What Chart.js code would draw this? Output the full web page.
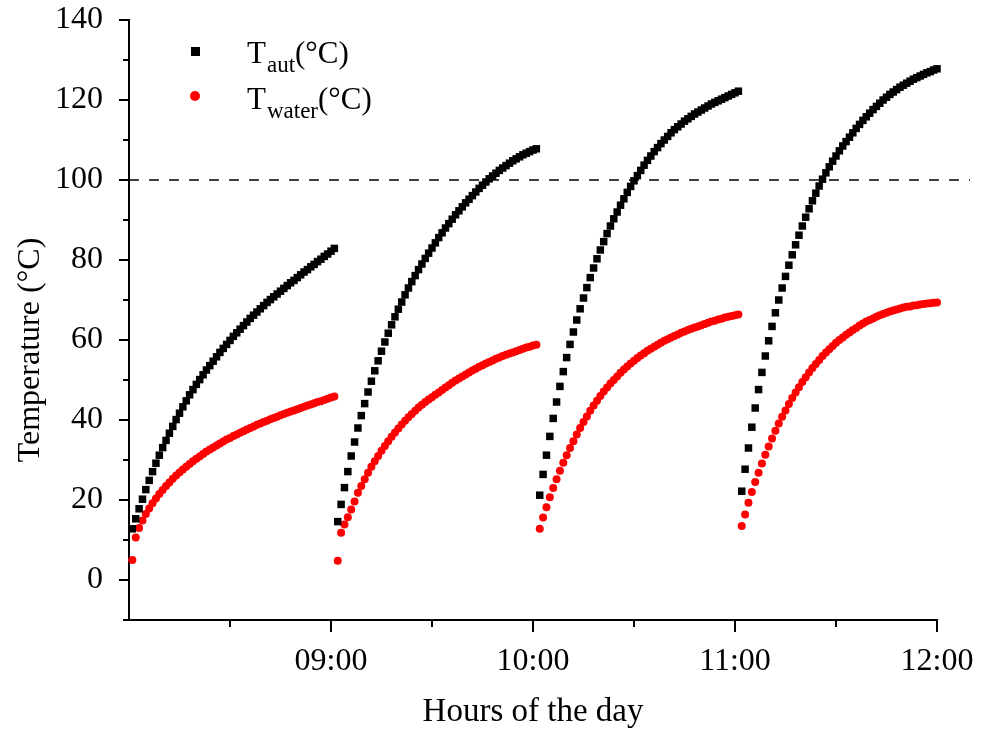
<!DOCTYPE html>
<html>
<head>
<meta charset="utf-8">
<title>Temperature</title>
<script src="https://cdn.jsdelivr.net/npm/chart.js@4.4.1/dist/chart.umd.min.js"></script>
<style>
  body { margin: 0; background: #fff; }
  #wrap { width: 983px; height: 733px; position: relative; }
</style>
</head>
<body>
<div id="wrap"><canvas id="chart"></canvas></div>
<script>
// minute (after 08:00) of the first reading in each heating run
const segStart = [1, 62, 122, 182];

// T_aut readings, one per minute
const autRun1 = [12.8, 15.3, 17.8, 20.2, 22.6, 24.9, 27.1, 29.2, 31.2, 33.1,
  34.9, 36.7, 38.4, 40.1, 41.7, 43.3, 44.8, 46.3, 47.6, 48.9,
  50.1, 51.3, 52.5, 53.6, 54.7, 55.8, 56.9, 57.9, 58.9, 59.9,
  60.9, 61.8, 62.7, 63.6, 64.5, 65.4, 66.2, 67.0, 67.8, 68.6,
  69.4, 70.1, 70.8, 71.5, 72.2, 72.9, 73.6, 74.3, 74.9, 75.6,
  76.3, 77.0, 77.6, 78.3, 78.9, 79.6, 80.2, 80.9, 81.5, 82.2, 82.9];
const autRun2 = [14.6, 18.9, 23.1, 27.1, 31.0, 34.5, 38.0, 41.1, 44.1, 47.0,
  49.7, 52.3, 54.8, 57.2, 59.5, 61.7, 63.8, 65.8, 67.7, 69.5,
  71.3, 73.0, 74.6, 76.1, 77.6, 79.0, 80.4, 81.7, 83.0, 84.3,
  85.6, 86.8, 88.0, 89.1, 90.2, 91.3, 92.3, 93.3, 94.3, 95.2,
  96.1, 97.0, 97.9, 98.7, 99.5, 100.3, 101.0, 101.7, 102.4, 103.0,
  103.6, 104.2, 104.8, 105.3, 105.8, 106.3, 106.7, 107.1, 107.5, 107.8];
const autRun3 = [21.2, 26.4, 31.2, 35.9, 40.4, 44.5, 48.4, 52.1, 55.6, 58.9,
  62.0, 65.0, 67.8, 70.5, 73.1, 75.6, 78.0, 80.3, 82.5, 84.6,
  86.6, 88.5, 90.3, 92.0, 93.7, 95.3, 96.9, 98.4, 99.8, 101.1,
  102.4, 103.7, 104.9, 106.0, 107.1, 108.1, 109.1, 110.0, 110.9, 111.8,
  112.6, 113.3, 114.0, 114.7, 115.3, 115.9, 116.5, 117.0, 117.5, 118.0,
  118.5, 119.0, 119.4, 119.8, 120.2, 120.6, 121.0, 121.4, 121.8, 122.2];
const autRun4 = [22.2, 27.7, 33.0, 38.2, 43.0, 47.6, 51.9, 56.0, 59.8, 63.4,
  66.8, 70.0, 73.0, 75.9, 78.7, 81.3, 83.8, 86.2, 88.5, 90.7,
  92.8, 94.8, 96.7, 98.5, 100.2, 101.8, 103.3, 104.7, 106.0, 107.3,
  108.5, 109.6, 110.7, 111.8, 112.9, 113.9, 114.9, 115.8, 116.7, 117.6,
  118.4, 119.2, 120.0, 120.7, 121.4, 122.0, 122.6, 123.2, 123.7, 124.2,
  124.7, 125.2, 125.6, 126.0, 126.4, 126.8, 127.1, 127.5, 127.8];

// T_water readings, one per minute
const waterRun1 = [5.0, 10.6, 13.0, 14.9, 16.5, 17.9, 19.2, 20.4, 21.5, 22.5,
  23.5, 24.4, 25.3, 26.1, 26.9, 27.6, 28.3, 29.0, 29.7, 30.3,
  30.9, 31.5, 32.1, 32.6, 33.1, 33.6, 34.1, 34.6, 35.1, 35.5,
  36.0, 36.4, 36.8, 37.2, 37.6, 38.0, 38.4, 38.8, 39.1, 39.5,
  39.8, 40.2, 40.5, 40.8, 41.2, 41.5, 41.8, 42.1, 42.4, 42.7,
  43.0, 43.3, 43.6, 43.9, 44.2, 44.5, 44.7, 45.0, 45.3, 45.6, 45.9];
const waterRun2 = [4.8, 11.8, 13.9, 15.7, 17.6, 19.6, 21.8, 23.5, 25.2, 26.8,
  28.3, 29.7, 31.0, 32.3, 33.5, 34.7, 35.8, 36.9, 37.9, 38.9,
  39.8, 40.7, 41.5, 42.3, 43.1, 43.8, 44.5, 45.1, 45.7, 46.3,
  46.9, 47.5, 48.1, 48.7, 49.3, 49.9, 50.4, 50.9, 51.4, 51.9,
  52.4, 52.8, 53.3, 53.7, 54.1, 54.5, 54.9, 55.3, 55.6, 56.0,
  56.3, 56.6, 56.9, 57.2, 57.5, 57.8, 58.1, 58.3, 58.6, 58.8];
const waterRun3 = [12.8, 15.6, 18.2, 20.7, 23.0, 25.2, 27.3, 29.3, 31.2, 33.0,
  34.7, 36.4, 38.0, 39.5, 40.9, 42.3, 43.6, 44.8, 46.0, 47.1,
  48.1, 49.1, 50.0, 50.9, 51.8, 52.6, 53.4, 54.1, 54.8, 55.5,
  56.1, 56.7, 57.3, 57.8, 58.3, 58.8, 59.3, 59.8, 60.2, 60.6,
  61.0, 61.4, 61.8, 62.1, 62.5, 62.8, 63.1, 63.4, 63.7, 64.0,
  64.3, 64.6, 64.8, 65.1, 65.3, 65.6, 65.8, 66.0, 66.2, 66.4];
const waterRun4 = [13.5, 16.4, 19.3, 22.0, 24.5, 26.8, 29.1, 31.3, 33.4, 35.4,
  37.3, 39.1, 40.8, 42.4, 44.0, 45.5, 46.9, 48.2, 49.5, 50.7,
  51.9, 53.0, 54.0, 55.0, 56.0, 56.9, 57.7, 58.5, 59.3, 60.0,
  60.6, 61.3, 61.9, 62.5, 63.0, 63.6, 64.1, 64.6, 65.0, 65.4,
  65.8, 66.2, 66.5, 66.8, 67.1, 67.4, 67.6, 67.9, 68.1, 68.3,
  68.4, 68.6, 68.7, 68.9, 69.0, 69.1, 69.2, 69.3, 69.4];

// axis ticks
const hourTicks = [60, 120, 180, 240];
const halfHourTicks = [30, 90, 150, 210];
const tempTicks = [0, 20, 40, 60, 80, 100, 120, 140];
const tempMinorTicks = [10, 30, 50, 70, 90, 110, 130];
const boilingLine = 100;

const serif = "'Liberation Serif', 'Times New Roman', serif";

//Turn runs into {x, y} points
function toPoints(runs) {
  let points = [];
  runs.forEach((run, k) => {
    run.forEach((v, i) => points.push({ x: segStart[k] + i, y: v }));
  });
  return points;
}

//Minutes after 08:00 -> "HH:MM"
function clockLabel(v) {
  let h = 8 + Math.floor(v / 60);
  let m = v % 60;
  return String(h).padStart(2, "0") + ":" + String(m).padStart(2, "0");
}

//Tick marks, dashed 100 line, y title and legend
const decorations = {
  id: "decorations",
  beforeDatasetsDraw(chart) {
    const { ctx, chartArea, scales } = chart;
    let y100 = scales.y.getPixelForValue(boilingLine);
    ctx.save();
    ctx.strokeStyle = "#000";
    ctx.lineWidth = 1.5;
    ctx.setLineDash([10, 10]);
    ctx.beginPath();
    ctx.moveTo(chartArea.left, y100);
    ctx.lineTo(chartArea.right + 33, y100);
    ctx.stroke();
    ctx.restore();
  },
  afterDraw(chart) {
    const { ctx, chartArea, scales } = chart;
    ctx.save();
    ctx.strokeStyle = "#000";
    ctx.lineWidth = 2;
    ctx.beginPath();
    // x ticks
    hourTicks.forEach((v) => {
      let px = scales.x.getPixelForValue(v);
      ctx.moveTo(px, chartArea.bottom);
      ctx.lineTo(px, chartArea.bottom + 12);
    });
    halfHourTicks.forEach((v) => {
      let px = scales.x.getPixelForValue(v);
      ctx.moveTo(px, chartArea.bottom);
      ctx.lineTo(px, chartArea.bottom + 7);
    });
    // y ticks
    tempTicks.forEach((v) => {
      let py = scales.y.getPixelForValue(v);
      ctx.moveTo(chartArea.left, py);
      ctx.lineTo(chartArea.left - 10, py);
    });
    tempMinorTicks.forEach((v) => {
      let py = scales.y.getPixelForValue(v);
      ctx.moveTo(chartArea.left, py);
      ctx.lineTo(chartArea.left - 6, py);
    });
    // x axis runs a little past the y axis
    ctx.moveTo(chartArea.left - 6, chartArea.bottom);
    ctx.lineTo(chartArea.left, chartArea.bottom);
    ctx.stroke();

    // y axis title
    ctx.fillStyle = "#000";
    ctx.save();
    ctx.translate(31, 350);
    ctx.rotate(-Math.PI / 2);
    ctx.font = "32px " + serif;
    ctx.textAlign = "center";
    ctx.textBaseline = "middle";
    ctx.fillText("Temperature (\u00B0C)", 0, 0);
    ctx.restore();

    // legend
    ctx.fillStyle = "#000";
    ctx.fillRect(191, 47, 9, 9);
    ctx.fillStyle = "#ff0000";
    ctx.beginPath();
    ctx.arc(195, 96, 5, 0, Math.PI * 2);
    ctx.fill();

    ctx.fillStyle = "#000";
    ctx.textBaseline = "alphabetic";
    ctx.textAlign = "left";
    drawSubLabel(ctx, "T", "aut", "(\u00B0C)", 247, 63);
    drawSubLabel(ctx, "T", "water", "(\u00B0C)", 247, 109);
    ctx.restore();
  },
};

function drawSubLabel(ctx, main, sub, tail, x, y) {
  ctx.font = "31px " + serif;
  ctx.fillText(main, x, y);
  x += ctx.measureText(main).width + 1;
  ctx.font = "23px " + serif;
  ctx.fillText(sub, x, y + 9);
  x += ctx.measureText(sub).width;
  ctx.font = "31px " + serif;
  ctx.fillText(tail, x, y);
}

let ctx = document.getElementById("chart").getContext("2d");
let chart = new Chart(ctx, {
  type: "scatter",
  data: {
    datasets: [
      {
        label: "T_aut(\u00B0C)",
        data: toPoints([autRun1, autRun2, autRun3, autRun4]),
        pointStyle: "rect",
        pointRadius: 5.3,
        pointBorderWidth: 0,
        backgroundColor: "#000000",
        borderColor: "#000000",
        clip: false,
      },
      {
        label: "T_water(\u00B0C)",
        data: toPoints([waterRun1, waterRun2, waterRun3, waterRun4]),
        pointStyle: "circle",
        pointRadius: 4,
        pointBorderWidth: 0,
        backgroundColor: "#ff0000",
        borderColor: "#ff0000",
        clip: false,
      },
    ],
  },
  options: {
    responsive: true,
    maintainAspectRatio: false,
    animation: false,
    layout: { padding: { top: 20, right: 46, bottom: 0, left: 0 } },
    plugins: {
      legend: { display: false },
      tooltip: { enabled: false },
    },
    scales: {
      x: {
        type: "linear",
        min: 0,
        max: 240,
        afterBuildTicks: (scale) => {
          scale.ticks = hourTicks.map((v) => ({ value: v }));
        },
        afterFit: (scale) => {
          scale.height = 113;
          scale.paddingLeft = 0;
          scale.paddingRight = 0;
        },
        grid: { display: false },
        border: { display: true, color: "#000", width: 2 },
        ticks: {
          color: "#000",
          padding: 14,
          maxRotation: 0,
          font: { family: serif, size: 32 },
          callback: (v) => clockLabel(v),
        },
        title: {
          display: true,
          text: "Hours of the day",
          color: "#000",
          font: { family: serif, size: 33 },
          padding: { top: 0, bottom: 1 },
        },
      },
      y: {
        min: -10,
        max: 140,
        afterBuildTicks: (scale) => {
          scale.ticks = tempTicks.map((v) => ({ value: v }));
        },
        afterFit: (scale) => {
          scale.width = 129;
          scale.paddingTop = 0;
          scale.paddingBottom = 0;
        },
        grid: { display: false },
        border: { display: true, color: "#000", width: 2 },
        ticks: {
          color: "#000",
          padding: 18,
          font: { family: serif, size: 32 },
        },
      },
    },
  },
  plugins: [decorations],
});
</script>
</body>
</html>
